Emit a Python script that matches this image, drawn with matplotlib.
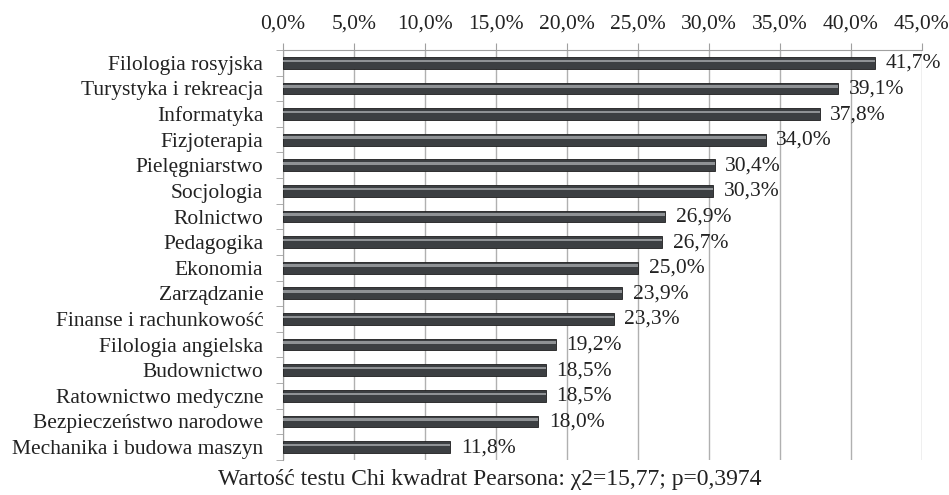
import numpy as np
import matplotlib
matplotlib.use("Agg")
from matplotlib import pyplot as plt
from matplotlib.ticker import FuncFormatter

# dane
kierunki = ["Filologia rosyjska", "Turystyka i rekreacja", "Informatyka", "Fizjoterapia",
            "Pielęgniarstwo", "Socjologia", "Rolnictwo", "Pedagogika", "Ekonomia",
            "Zarządzanie", "Finanse i rachunkowość", "Filologia angielska", "Budownictwo",
            "Ratownictwo medyczne", "Bezpieczeństwo narodowe", "Mechanika i budowa maszyn"]
wartosci = [41.7, 39.1, 37.8, 34.0, 30.4, 30.3, 26.9, 26.7, 25.0, 23.9, 23.3, 19.2,
            18.5, 18.5, 18.0, 11.8]
podpis = "Wartość testu Chi kwadrat Pearsona: χ2=15,77; p=0,3974"

plt.rcParams['font.family'] = ['Liberation Serif', 'DejaVu Serif']
plt.rcParams['font.size'] = 15.5

fig = plt.figure(figsize=(9.49, 4.95), dpi=100)
ax = fig.add_axes([0.298, 0.071, 0.6735, 0.828])

y = np.arange(len(kierunki))
h = 0.46
ax.barh(y, wartosci, height=h, color='#3c3f42', edgecolor='#1e1e1e', linewidth=0.6, zorder=3)
# jasny pasek imitujący efekt 3D
ax.barh(y - h * 0.17, wartosci, height=h * 0.22, color='#8f9295', linewidth=0, zorder=4)

for yi, v in zip(y, wartosci):
    ax.text(v + 0.75, yi + 0.02, "{:.1f}%".format(v).replace('.', ','), va='center', ha='left',
            color='#222222', zorder=5)

ax.set_xlim(0, 45)
ax.set_ylim(len(kierunki) - 0.5, -0.5)
ax.set_xticks(np.arange(0, 46, 5))
ax.xaxis.set_major_formatter(FuncFormatter(lambda v, p: "{:.1f}%".format(v).replace('.', ',')))
ax.xaxis.tick_top()
ax.set_yticks(y)
ax.set_yticklabels(kierunki)
ax.set_yticks(np.arange(-0.5, len(kierunki), 1), minor=True)
ax.tick_params(axis='y', which='major', length=0, pad=14, labelcolor='#222222')
ax.tick_params(axis='y', which='minor', length=5, color='#a0a0a0')
ax.tick_params(axis='x', length=5, color='#a0a0a0', labelcolor='#222222', pad=7)
ax.grid(axis='x', color='#b0b0b0', linewidth=1, zorder=0)
for s in ['right', 'bottom']:
    ax.spines[s].set_visible(False)
ax.spines['top'].set_color('#a0a0a0')
ax.spines['left'].set_color('#a0a0a0')

fig.text(0.516, 0.032, podpis, ha='center', va='center', color='#222222', fontsize=17)

fig.savefig("out.png", dpi=100)
